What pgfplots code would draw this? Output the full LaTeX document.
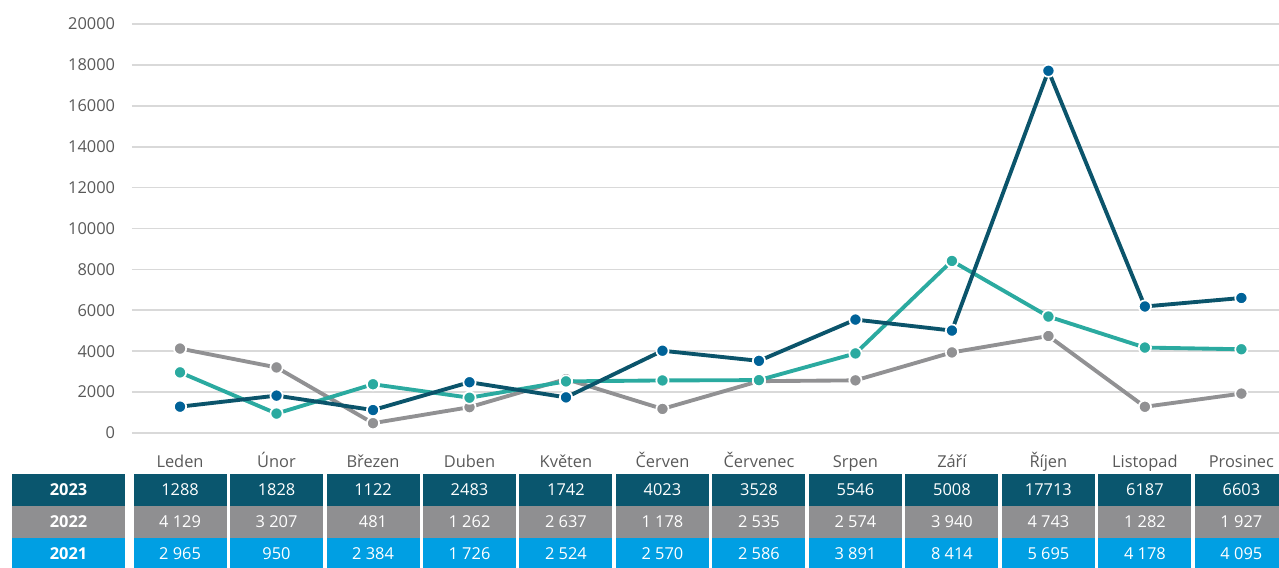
\documentclass[border=0pt]{standalone}
\usepackage{pgfplots}
\pgfplotsset{compat=1.18}
\usepackage{fontspec}
\setmainfont{Open Sans}
\definecolor{l23}{RGB}{11,84,107}
\definecolor{m23}{RGB}{0,98,152}
\definecolor{l22}{RGB}{145,145,147}
\definecolor{l21}{RGB}{43,170,160}
\definecolor{t23}{RGB}{10,86,110}
\definecolor{t22}{RGB}{143,143,145}
\definecolor{t21}{RGB}{0,159,227}
\definecolor{gridc}{RGB}{217,217,217}
\definecolor{tickc}{RGB}{89,89,89}

\pgfplotsset{
  tablerow/.style={draw=none, no markers, nodes near coords, point meta=explicit symbolic,
    every node near coord/.append style={anchor=center, fill=#1, text=white, inner sep=0pt,
      minimum width=69.75pt, minimum height=24pt, font=\fontsize{12.3}{14}\selectfont}},
  serie/.style={#1, line width=2.9pt, mark=*, mark size=4.6pt},
}

\begin{document}
\begin{tikzpicture}
\begin{axis}[
  at={(98.85pt,101.25pt)}, anchor=south west,
  scale only axis, width=860.4pt, height=306.75pt,
  xmin=-0.5, xmax=11.39, ymin=0, ymax=20000,
  axis line style={draw=none}, major tick length=0pt,
  ymajorgrids, grid style={draw=gridc, line width=1.3pt},
  ytick={0,2000,...,20000}, scaled y ticks=false,
  /pgf/number format/1000 sep={},
  /pgf/number format/assume math mode=true,
  yticklabel style={font=\fontsize{12.3}{14}\selectfont, text=tickc, xshift=-9pt},
  xtick={0,...,11},
  xticklabels={Leden,Únor,Březen,Duben,Květen,Červen,Červenec,Srpen,Září,Říjen,Listopad,Prosinec},
  xticklabel style={font=\fontsize{12.3}{14}\selectfont, text=tickc, anchor=base, yshift=-25.5pt},
  clip=false,
]
% 2022
\addplot[serie=l22, mark options={draw=white, line width=1.3pt, fill=l22}] coordinates
  {(0,4129) (1,3207) (2,481) (3,1262) (4,2637) (5,1178) (6,2535) (7,2574) (8,3940) (9,4743) (10,1282) (11,1927)};
% 2021
\addplot[serie=l21, mark options={draw=white, line width=1.3pt, fill=l21}] coordinates
  {(0,2965) (1,950) (2,2384) (3,1726) (4,2524) (5,2570) (6,2586) (7,3891) (8,8414) (9,5695) (10,4178) (11,4095)};
% 2023
\addplot[serie=l23, mark options={draw=white, line width=1.3pt, fill=m23}] coordinates
  {(0,1288) (1,1828) (2,1122) (3,2483) (4,1742) (5,4023) (6,3528) (7,5546) (8,5008) (9,17713) (10,6187) (11,6603)};

% data table under the chart
\addplot[tablerow=t23] coordinates
  {(0,-2787)[1288] (1,-2787)[1828] (2,-2787)[1122] (3,-2787)[2483] (4,-2787)[1742] (5,-2787)[4023]
   (6,-2787)[3528] (7,-2787)[5546] (8,-2787)[5008] (9,-2787)[17713] (10,-2787)[6187] (11,-2787)[6603]};
\addplot[tablerow=t22] coordinates
  {(0,-4352)[4~129] (1,-4352)[3~207] (2,-4352)[481] (3,-4352)[1~262] (4,-4352)[2~637] (5,-4352)[1~178]
   (6,-4352)[2~535] (7,-4352)[2~574] (8,-4352)[3~940] (9,-4352)[4~743] (10,-4352)[1~282] (11,-4352)[1~927]};
\addplot[tablerow=t21] coordinates
  {(0,-5917)[2~965] (1,-5917)[950] (2,-5917)[2~384] (3,-5917)[1~726] (4,-5917)[2~524] (5,-5917)[2~570]
   (6,-5917)[2~586] (7,-5917)[3~891] (8,-5917)[8~414] (9,-5917)[5~695] (10,-5917)[4~178] (11,-5917)[4~095]};
\end{axis}
\begin{scope}[every node/.style={text=white, inner sep=0pt, minimum width=84.75pt, minimum height=24pt,
    font=\fontsize{12.3}{14}\selectfont\bfseries}]
  \node[fill=t23] at (51.375pt,58.5pt) {2023};
  \node[fill=t22] at (51.375pt,34.5pt) {2022};
  \node[fill=t21] at (51.375pt,10.5pt) {2021};
\end{scope}
\pgfresetboundingbox
\path (0pt,0pt) rectangle (959.25pt,426pt);
\end{tikzpicture}
\end{document}
